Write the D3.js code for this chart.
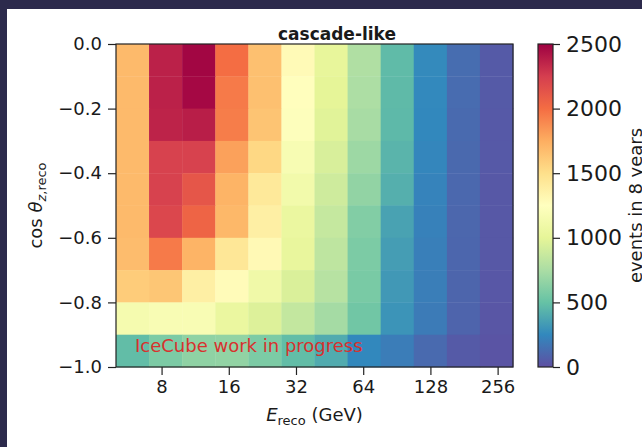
<!DOCTYPE html>
<html>
<head>
<meta charset="utf-8">
<script src="https://cdn.jsdelivr.net/npm/d3@7"></script>
<style>
  html, body { margin: 0; padding: 0; background: #2c2a4c; }
  svg { display: block; }
  text { font-family: "DejaVu Sans", sans-serif; fill: #1a1a1a; }
</style>
</head>
<body>
<script>
// Reconstructed-energy bin edges (GeV), log spaced
const energyEdges = [5.0, 7.03, 9.89, 13.92, 19.58, 27.54, 38.73, 54.49, 76.64, 107.8, 151.7, 213.3, 300.0];
// Reconstructed cos(zenith) bin edges, top row first
const cosEdges = [0.0, -0.1, -0.2, -0.3, -0.4, -0.5, -0.6, -0.7, -0.8, -0.9, -1.0];
// Event counts in 8 years; one row per cos bin (top to bottom), one column per energy bin
const events = [
  [1690, 2370, 2480, 2000, 1660, 1290, 1020, 770, 470, 260, 130, 50],
  [1690, 2370, 2470, 1950, 1660, 1260, 1000, 760, 465, 255, 125, 50],
  [1690, 2360, 2380, 1940, 1640, 1230,  980, 740, 460, 250, 120, 45],
  [1690, 2230, 2230, 1800, 1540, 1170,  940, 700, 440, 240, 115, 45],
  [1690, 2230, 2120, 1720, 1430, 1120,  900, 660, 420, 230, 110, 40],
  [1690, 2200, 2050, 1700, 1380, 1050,  860, 600, 360, 220, 105, 40],
  [1680, 1950, 1720, 1440, 1300, 1030,  830, 580, 340, 210, 100, 40],
  [1600, 1630, 1380, 1280, 1100,  950,  800, 570, 320, 205,  95, 35],
  [1150, 1180, 1180, 1050,  960,  850,  730, 540, 300, 195,  90, 30],
  [ 480,  580,  650,  660,  580,  480,  400, 250, 200, 120,  50, 20]
];
const xTicks = [8, 16, 32, 64, 128, 256];
const yTicks = [0.0, -0.2, -0.4, -0.6, -0.8, -1.0];
const cbTicks = [0, 500, 1000, 1500, 2000, 2500];
const cbRange = [0, 2500];

const W = 642, H = 447;
const svg = d3.select("body").append("svg").attr("width", W).attr("height", H);

// slide panel behind the figure
svg.append("rect").attr("x", 0).attr("y", 0).attr("width", W).attr("height", H).attr("fill", "#2c2a4c");
svg.append("rect").attr("x", 7).attr("y", 9).attr("width", W - 7).attr("height", H - 9).attr("fill", "#ffffff");

const plot = { left: 116, right: 513, top: 44, bottom: 367 };
const x = d3.scaleLog().domain([energyEdges[0], energyEdges[energyEdges.length - 1]]).range([plot.left, plot.right]);
const y = d3.scaleLinear().domain([-1, 0]).range([plot.bottom, plot.top]);

// Spectral_r colormap: linear interpolation through the 11 ColorBrewer stops
const spectral = d3.schemeSpectral[11].slice().reverse();
const color = d3.scaleLinear()
  .domain(d3.range(11).map(i => cbRange[0] + (cbRange[1] - cbRange[0]) * i / 10))
  .range(spectral)
  .interpolate(d3.interpolateRgb)
  .clamp(true);

// heatmap cells
const cells = [];
events.forEach((row, r) => row.forEach((v, c) => cells.push({ r, c, v })));
svg.append("g").selectAll("rect").data(cells).join("rect")
  .attr("x", d => x(energyEdges[d.c]))
  .attr("y", d => y(cosEdges[d.r]))
  .attr("width", d => x(energyEdges[d.c + 1]) - x(energyEdges[d.c]) + 0.4)
  .attr("height", d => y(cosEdges[d.r + 1]) - y(cosEdges[d.r]) + 0.4)
  .attr("fill", d => color(d.v));

// watermark
svg.append("text").attr("x", 135).attr("y", 352)
  .style("font-size", "18px").style("fill", "#d8312e")
  .text("IceCube work in progress");

// axes
const xAxis = svg.append("g").attr("transform", `translate(0,${plot.bottom})`)
  .call(d3.axisBottom(x).tickValues(xTicks).tickFormat(d3.format("d")).tickSize(8).tickPadding(5));
const yAxis = svg.append("g").attr("transform", `translate(${plot.left},0)`)
  .call(d3.axisLeft(y).tickValues(yTicks).tickFormat(d => d3.format(".1f")(d).replace("-", "\u2212")).tickSize(8).tickPadding(6));
[xAxis, yAxis].forEach(g => {
  g.select(".domain").remove();
  g.selectAll(".tick line").attr("stroke", "#222").attr("stroke-width", 1.2);
  g.selectAll(".tick text").style("font-size", "18px").style("font-family", "DejaVu Sans, sans-serif").attr("fill", "#1a1a1a");
});

// frame
svg.append("rect").attr("x", plot.left).attr("y", plot.top)
  .attr("width", plot.right - plot.left).attr("height", plot.bottom - plot.top)
  .attr("fill", "none").attr("stroke", "#222").attr("stroke-width", 1.2);

// title
svg.append("text").attr("x", 337).attr("y", 40)
  .attr("text-anchor", "middle").style("font-size", "17px").style("font-weight", "bold")
  .text("cascade-like");

// x label
const xl = svg.append("text").attr("x", (plot.left + plot.right) / 2).attr("y", 421)
  .attr("text-anchor", "middle").style("font-size", "18px");
xl.append("tspan").style("font-style", "italic").text("E");
xl.append("tspan").attr("dy", 4).style("font-size", "13px").text("reco");
xl.append("tspan").attr("dy", -4).text(" (GeV)");

// y label
const yl = svg.append("text").attr("transform", `translate(42,${(plot.top + plot.bottom) / 2}) rotate(-90)`)
  .attr("text-anchor", "middle").style("font-size", "18px");
yl.append("tspan").text("cos ");
yl.append("tspan").style("font-style", "italic").text("\u03b8");
yl.append("tspan").attr("dy", 4).style("font-size", "13px").style("font-style", "italic").text("z");
yl.append("tspan").style("font-size", "13px").text(",reco");

// colorbar
const cb = { left: 538, right: 553 };
const cbY = d3.scaleLinear().domain(cbRange).range([plot.bottom, plot.top]);
const grad = svg.append("defs").append("linearGradient").attr("id", "cbgrad")
  .attr("x1", 0).attr("y1", 1).attr("x2", 0).attr("y2", 0);
spectral.forEach((c, i) => grad.append("stop").attr("offset", i / 10).attr("stop-color", c));
svg.append("rect").attr("x", cb.left).attr("y", plot.top)
  .attr("width", cb.right - cb.left).attr("height", plot.bottom - plot.top)
  .attr("fill", "url(#cbgrad)").attr("stroke", "#222").attr("stroke-width", 1.2);
const cbAxis = svg.append("g").attr("transform", `translate(${cb.right},0)`)
  .call(d3.axisRight(cbY).tickValues(cbTicks).tickFormat(d3.format("d")).tickSize(7).tickPadding(6));
cbAxis.select(".domain").remove();
cbAxis.selectAll(".tick line").attr("stroke", "#222").attr("stroke-width", 1.2);
cbAxis.selectAll(".tick text").style("font-size", "22px").style("font-family", "DejaVu Sans, sans-serif").attr("fill", "#1a1a1a");

svg.append("text").attr("transform", `translate(642,${(plot.top + plot.bottom) / 2}) rotate(-90)`)
  .attr("text-anchor", "middle").style("font-size", "18px")
  .text("events in 8 years");
</script>
</body>
</html>
